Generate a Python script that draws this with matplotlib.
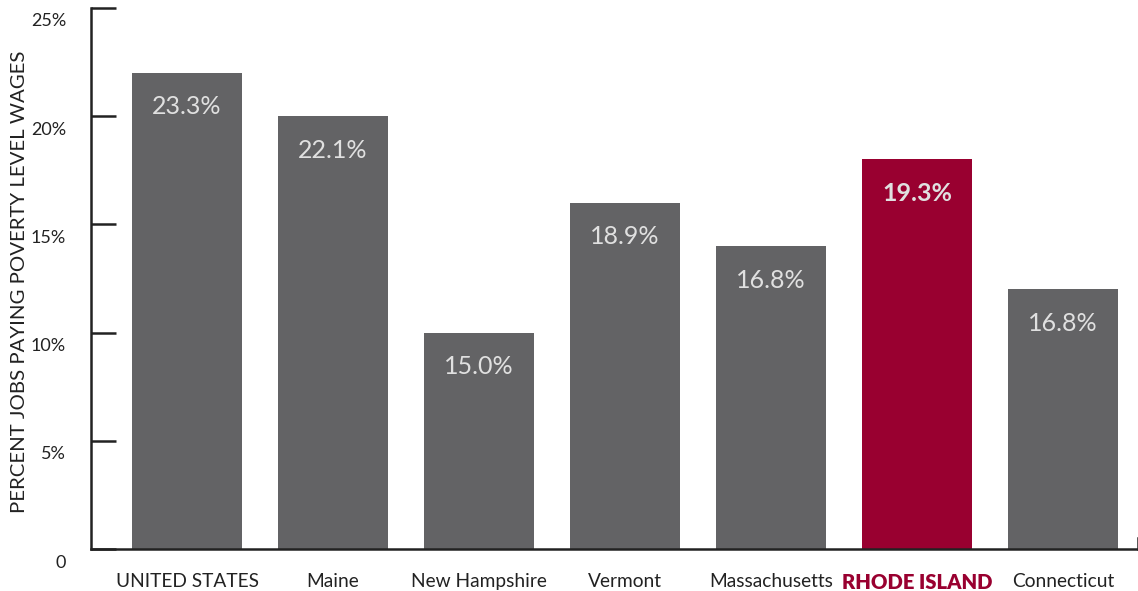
import numpy as np
import matplotlib.pyplot as plt
import matplotlib.transforms as mtransforms

plt.rcParams['font.family'] = ['Lato', 'DejaVu Sans']

states = ["UNITED STATES", "Maine", "New Hampshire", "Vermont",
          "Massachusetts", "RHODE ISLAND", "Connecticut"]
heights = [22, 20, 10, 16, 14, 18, 12]
labels = ["23.3%", "22.1%", "15.0%", "18.9%", "16.8%", "19.3%", "16.8%"]
yticks = [0, 5, 10, 15, 20, 25]
yticklabels = ["0", "5%", "10%", "15%", "20%", "25%"]

grey = "#636365"
red = "#990030"
colors = [red if s == "RHODE ISLAND" else grey for s in states]

fig = plt.figure(figsize=(11.38, 5.91), dpi=100)
ax = fig.add_axes([91/1138, 42/591, 1 - 91/1138, 541/591])

x = np.arange(len(states))
bars = ax.bar(x, heights, width=110/146, color=colors)

for xi, h, lab, s in zip(x, heights, labels, states):
    bold = s == "RHODE ISLAND"
    ax.text(xi, h - 1.57, lab, ha="center", va="center", fontsize=18,
            color="#e0e0e0", fontweight="bold" if bold else "normal")

ax.set_xlim(-96/146, 6 + 75/146)
ax.set_ylim(0, 25)

for side in ["top", "right"]:
    ax.spines[side].set_visible(False)
for side in ["left", "bottom"]:
    ax.spines[side].set_linewidth(1.8)
    ax.spines[side].set_color("#222222")

ax.set_yticks(yticks)
ax.set_yticklabels(yticklabels, fontsize=13, color="#222222")
ax.tick_params(axis="y", direction="in", length=18, width=1.8, pad=18,
               color="#222222")
offset = mtransforms.ScaledTranslation(0, -12/100, fig.dpi_scale_trans)
for t in ax.get_yticklabels():
    t.set_transform(t.get_transform() + offset)

ax.set_xticks(x)
ax.set_xticklabels(states, fontsize=13.8, color="#222222")
ax.tick_params(axis="x", length=0, pad=17)
for t, s in zip(ax.get_xticklabels(), states):
    if s == "RHODE ISLAND":
        t.set_color(red)
        t.set_fontweight("heavy")
        t.set_fontsize(14.6)

# small end tick at right of the x axis
ax.plot([1, 1], [0, 0.02], transform=ax.transAxes, color="#222222",
        lw=1.8, clip_on=False)

fig.text(20/1138, 1 - 282/591, "PERCENT JOBS PAYING POVERTY LEVEL WAGES",
         rotation=90, ha="center", va="center", fontsize=14.7, color="#222222")

fig.savefig("out.png", dpi=100)
